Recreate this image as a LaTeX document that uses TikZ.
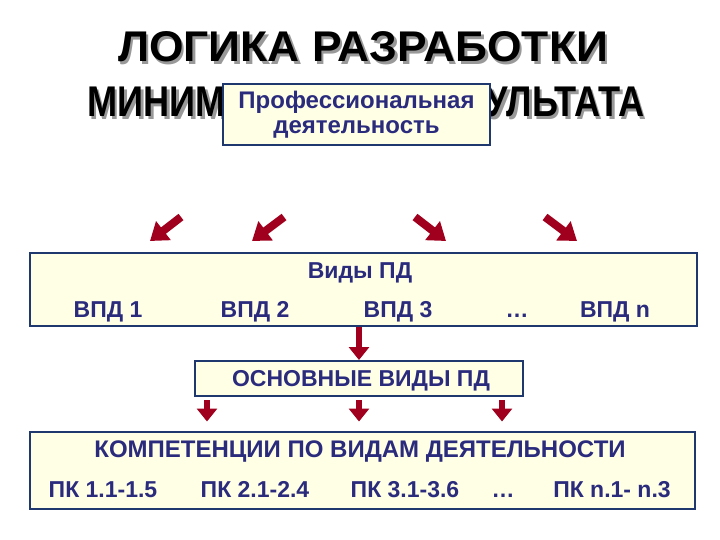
\documentclass[tikz,border=0pt]{standalone}
\usepackage{fontspec}
\setmainfont{Liberation Sans}
\usepackage{xcolor}
\usetikzlibrary{arrows.meta, positioning, calc}
\definecolor{ramka}{RGB}{31,56,110}
\definecolor{tekst}{RGB}{43,43,125}
\definecolor{tlo}{RGB}{255,255,229}
\definecolor{strzalka}{RGB}{160,0,30}
\newcommand{\tytulA}{\resizebox{490pt}{30pt}{ЛОГИКА РАЗРАБОТКИ}}
\newcommand{\tytulB}{\resizebox{557pt}{30pt}{МИНИМАЛЬНОГО РЕЗУЛЬТАТА}}

\begin{document}
\begin{tikzpicture}[x=1pt, y=-1pt,
 pole/.style={draw=ramka, line width=2pt, fill=tlo, inner sep=0pt},
 napis/.style={text=tekst, font=\fontsize{23}{26}\selectfont\bfseries, anchor=base},
 tytul/.style={font=\fontsize{42}{46}\selectfont\bfseries, anchor=base, inner sep=0pt},
 skos/.style={draw=strzalka, line width=8pt, -{Triangle[width=23pt,length=17pt]}},
 pion/.style={draw=strzalka, line width=6.5pt, -{Triangle[width=20pt,length=13pt]}}]
\useasboundingbox (0,0) rectangle (720,540);
% tytul z cieniem
\node[tytul, text=black!40, xshift=2.5pt, yshift=-2.5pt] at (363,62) {\tytulA};
\node[tytul, text=black!40, xshift=2.5pt, yshift=-2.5pt] at (366,117) {\tytulB};
\node[tytul](tyt1) at (363,62) {\tytulA};
\node[tytul](tyt2) at (366,117) {\tytulB};
\node[pole, minimum width=267pt, minimum height=61pt, align=center, text=tekst,
 font=\fontsize{24}{25}\selectfont\bfseries](prof) at (356.5,114.5)
 {Профессиональная\\деятельность};
% strzalki skosne
\coordinate (s1) at (181,217); \coordinate (k1) at (150,241);
\coordinate (s2) at (284,217); \coordinate (k2) at (252,241);
\coordinate (s3) at (415,217); \coordinate (k3) at (446,241);
\coordinate (s4) at (545,217); \coordinate (k4) at (577,241);
\foreach \i in {1,...,4} \draw[skos] (s\i) -- (k\i);
% vidy PD
\node[pole, minimum width=667pt, minimum height=73pt](vidy) at (363.5,289.5) {};
\node[napis](vidyt) at (360,278) {Виды ПД};
\node[napis](vpd1) at (108,317) {ВПД 1};
\node[napis](vpd2) at (255,317) {ВПД 2};
\node[napis](vpd3) at (398,317) {ВПД 3};
\node[napis](vpdk) at (517,317) {\dots};
\node[napis](vpdn) at (615,317) {ВПД n};
\node[pole, minimum width=328pt, minimum height=35pt](osn) at (359,378.5) {};
\node[napis](osnt) at (361,386) {ОСНОВНЫЕ ВИДЫ ПД};
\path[pion] (vidy.south -| osn.north) -- (osn.north);
% kompetencii
\node[pole, minimum width=665pt, minimum height=77pt](komp) at (362.5,470) {};
\node[napis, font=\fontsize{24}{26}\selectfont\bfseries](kompt) at (360,457) {КОМПЕТЕНЦИИ ПО ВИДАМ ДЕЯТЕЛЬНОСТИ};
\node[napis](pk1) at (103,497) {ПК 1.1-1.5};
\node[napis](pk2) at (255,497) {ПК 2.1-2.4};
\node[napis](pk3) at (405,497) {ПК 3.1-3.6};
\node[napis](pkk) at (503,497) {\dots};
\node[napis](pkn) at (612,497) {ПК n.1- n.3};
\foreach \dx in {-152,0,143}
 \path[pion, shorten <=3pt, shorten >=9pt] ([xshift=\dx pt]osn.south) -- ([xshift=\dx pt]osn.south |- komp.north);
\end{tikzpicture}
\end{document}
